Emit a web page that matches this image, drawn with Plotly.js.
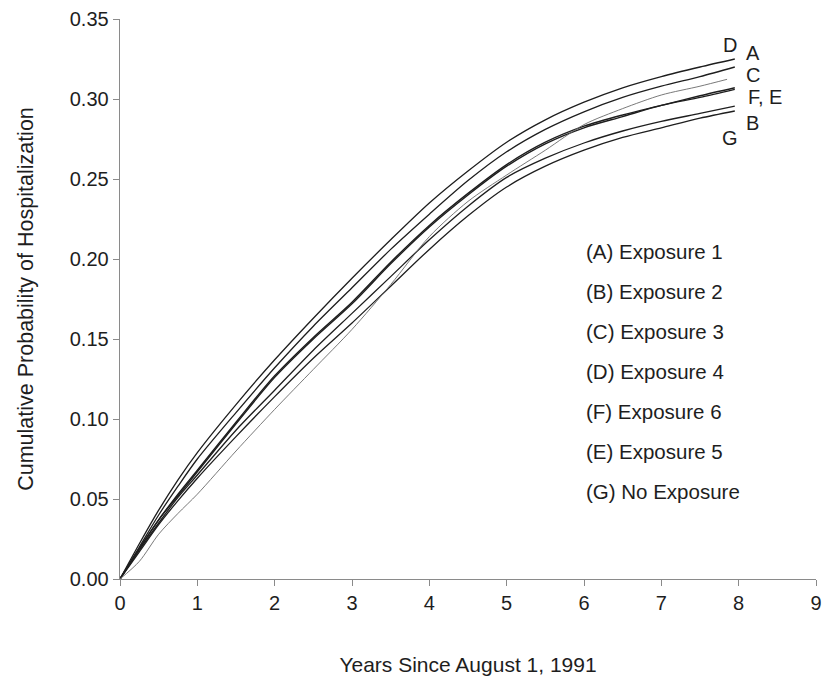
<!DOCTYPE html>
<html>
<head>
<meta charset="utf-8">
<script src="https://cdn.plot.ly/plotly-3.0.1.min.js"></script>
<style>html,body{margin:0;padding:0;background:#fff;}#chart{width:823px;height:676px;}</style>
</head>
<body>
<div id="chart"></div>
<script>
// Years since August 1, 1991
var years = [0, 0.25, 0.5, 0.75, 1, 1.5, 2, 2.5, 3, 3.5, 4, 4.5, 5, 5.5, 6, 6.5, 7, 7.5, 7.95];
var yearsC = [0, 0.25, 0.5, 0.75, 1, 1.5, 2, 2.5, 3, 3.5, 4, 4.5, 5, 5.5, 6, 6.5, 7, 7.5, 7.85];

var seriesD = [0, 0.022, 0.043, 0.062, 0.079, 0.109, 0.137, 0.163, 0.188, 0.212, 0.235, 0.255, 0.273, 0.287, 0.298, 0.307, 0.314, 0.320, 0.325];
var seriesA = [0, 0.020, 0.040, 0.058, 0.075, 0.104, 0.132, 0.158, 0.182, 0.206, 0.228, 0.249, 0.267, 0.281, 0.292, 0.301, 0.308, 0.314, 0.320];
var seriesC = [0, 0.011, 0.028, 0.041, 0.053, 0.080, 0.106, 0.131, 0.156, 0.184, 0.214, 0.236, 0.2525, 0.268, 0.284, 0.294, 0.3025, 0.308, 0.3123];
var seriesF = [0, 0.019, 0.037, 0.053, 0.068, 0.098, 0.127, 0.151, 0.173, 0.198, 0.221, 0.241, 0.259, 0.273, 0.283, 0.290, 0.296, 0.302, 0.307];
var seriesE = [0, 0.019, 0.037, 0.052, 0.067, 0.097, 0.126, 0.150, 0.172, 0.197, 0.220, 0.240, 0.258, 0.272, 0.282, 0.289, 0.296, 0.301, 0.306];
var seriesB = [0, 0.018, 0.035, 0.051, 0.065, 0.093, 0.118, 0.143, 0.166, 0.189, 0.212, 0.233, 0.251, 0.263, 0.2725, 0.280, 0.286, 0.291, 0.2956];
var seriesG = [0, 0.017, 0.034, 0.049, 0.063, 0.089, 0.114, 0.138, 0.160, 0.183, 0.206, 0.227, 0.245, 0.258, 0.268, 0.276, 0.282, 0.288, 0.2925];

var endLabels = ["D", "A", "C", "F, E", "B", "G"];
var endLabelX = [7.89, 8.18, 8.18, 8.34, 8.18, 7.89];
var endLabelY = [0.334, 0.329, 0.315, 0.301, 0.285, 0.2756];

var legendTexts = ["(A) Exposure 1", "(B) Exposure 2", "(C) Exposure 3", "(D) Exposure 4", "(F) Exposure 6", "(E) Exposure 5", "(G) No Exposure"];

var xTicks = [0, 1, 2, 3, 4, 5, 6, 7, 8, 9];
var yTicks = [0, 0.05, 0.10, 0.15, 0.20, 0.25, 0.30, 0.35];
var yTickText = ["0.00", "0.05", "0.10", "0.15", "0.20", "0.25", "0.30", "0.35"];

var FONT = "Arial, 'Liberation Sans', sans-serif";

function line(name, x, y, color, width) {
  return {x: x, y: y, name: name, mode: "lines", type: "scatter",
    line: {color: color, width: width, shape: "spline", smoothing: 0.8},
    hoverinfo: "skip", showlegend: false};
}

var traces = [
  line("D", years, seriesD, "#1e1e1e", 1.3),
  line("A", years, seriesA, "#1e1e1e", 1.3),
  line("B", years, seriesB, "#1e1e1e", 1.3),
  line("G", years, seriesG, "#1e1e1e", 1.3),
  line("F", years, seriesF, "#1e1e1e", 1.4),
  line("E", years, seriesE, "#1e1e1e", 1.4),
  line("C", yearsC, seriesC, "#6a6a6a", 0.9)
];

var annotations = [];
for (var i = 0; i < endLabels.length; i++) {
  annotations.push({x: endLabelX[i], y: endLabelY[i], xref: "x", yref: "y", text: endLabels[i],
    showarrow: false, xanchor: "center", yanchor: "middle",
    font: {family: FONT, size: 20, color: "#1e1e1e"}});
}
for (var j = 0; j < legendTexts.length; j++) {
  annotations.push({x: 6.0, y: 0.2044 - 0.025 * j, xref: "x", yref: "y", text: legendTexts[j],
    showarrow: false, xanchor: "left", yanchor: "middle",
    font: {family: FONT, size: 20.5, color: "#1e1e1e"}});
}

var layout = {
  width: 823, height: 676,
  margin: {l: 120, r: 7, t: 19, b: 97},
  paper_bgcolor: "#ffffff", plot_bgcolor: "#ffffff",
  showlegend: false,
  xaxis: {
    range: [0, 9], tickvals: xTicks, ticktext: xTicks.map(String),
    showgrid: false, zeroline: false, showline: true, linecolor: "#8a8a8a", linewidth: 1.3,
    ticks: "outside", ticklen: 6, tickcolor: "#8a8a8a", tickwidth: 1,
    tickfont: {family: FONT, size: 20, color: "#1e1e1e"},
    title: {text: "Years Since August 1, 1991", standoff: 44,
      font: {family: FONT, size: 21, color: "#1e1e1e"}}
  },
  yaxis: {
    range: [0, 0.35], tickvals: yTicks, ticktext: yTickText,
    showgrid: false, zeroline: false, showline: true, linecolor: "#8a8a8a", linewidth: 1.3,
    ticks: "outside", ticklen: 6, tickcolor: "#8a8a8a", tickwidth: 1,
    tickfont: {family: FONT, size: 20, color: "#1e1e1e"},
    title: {text: "Cumulative Probability of Hospitalization", standoff: 30,
      font: {family: FONT, size: 21.5, color: "#1e1e1e"}}
  },
  annotations: annotations
};

Plotly.newPlot("chart", traces, layout, {displayModeBar: false, staticPlot: true});
</script>
</body>
</html>
